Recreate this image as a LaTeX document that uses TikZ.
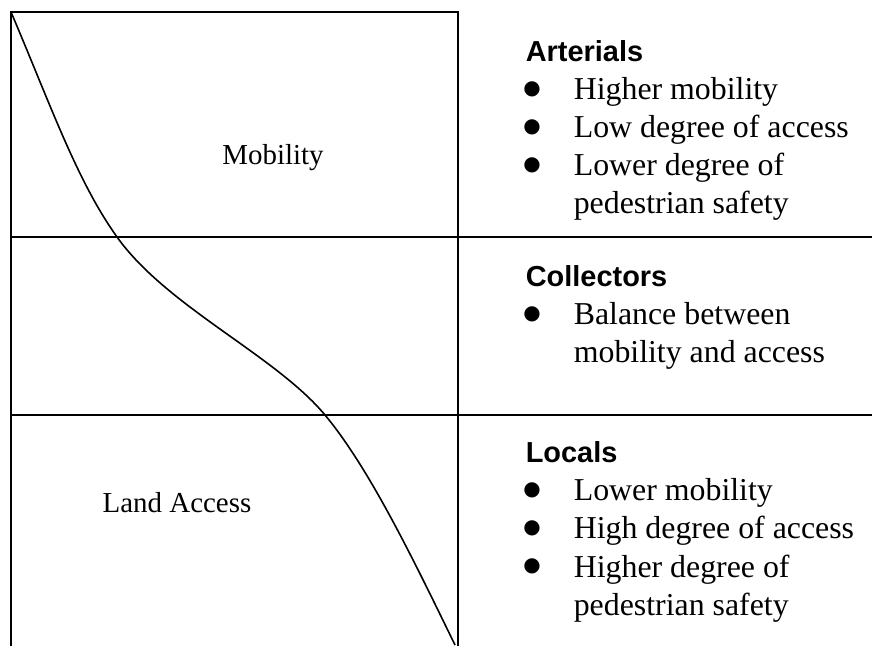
\documentclass[tikz,border=0pt]{standalone}
\usepackage{fontspec}
\setmainfont{Liberation Serif}
\setsansfont{Liberation Sans}
\newfontfamily\dotfont{DejaVu Sans}
\tikzset{
  headtxt/.style={anchor=base west, inner sep=0pt, font=\sffamily\bfseries\fontsize{10.9}{13}\selectfont},
  itemtxt/.style={anchor=base west, inner sep=0pt, font=\fontsize{12}{14}\selectfont},
  bullettxt/.style={anchor=base, inner sep=0pt, yshift=1.9pt, font=\dotfont\fontsize{7.5}{8}\selectfont},
  celltxt/.style={anchor=base, inner sep=0pt, font=\fontsize{10.9}{13}\selectfont}
}
\begin{document}
\begin{tikzpicture}[x=0.3768pt, y=-0.3768pt, line width=0.6pt]
    \useasboundingbox (0,0) rectangle (872,646);

    % grid
    \coordinate (TL) at (11,12);
    \coordinate (TM) at (458,12);
    \coordinate (BL) at (11,646);
    \coordinate (BM) at (458,646);
    \coordinate (L1) at (11,237);
    \coordinate (R1) at (872,237);
    \coordinate (L2) at (11,415);
    \coordinate (R2) at (872,415);

    \draw (BL) -- (TL) -- (TM) -- (BM);
    \draw (L1) -- (R1);
    \draw (L2) -- (R2);

    % curve
    \coordinate (C1) at (117,237);
    \coordinate (C2) at (325,415);
    \coordinate (C3) at (455,645);
    \draw (TL) .. controls (51,106) and (77,181) .. (C1)
               .. controls (167,307) and (275,355) .. (C2)
               .. controls (370,469) and (415,563) .. (C3);

    % left labels
    \node[celltxt] (mob) at (273,165) {Mobility};
    \node[celltxt] (land) at (177,513) {Land Access};

    % Arterials
    \node[headtxt] (art) at (525,62) {Arterials};
    \node[bullettxt] (artb1) at (532,100) {●};
    \node[itemtxt] (art1) at (573,100) {Higher mobility};
    \node[bullettxt] (artb2) at (532,138) {●};
    \node[itemtxt] (art2) at (573,138) {Low degree of access};
    \node[bullettxt] (artb3) at (532,176) {●};
    \node[itemtxt] (art3) at (573,176) {Lower degree of};
    \node[itemtxt] (art4) at (573,214) {pedestrian safety};

    % Collectors
    \node[headtxt] (col) at (525,287) {Collectors};
    \node[bullettxt] (colb1) at (532,325) {●};
    \node[itemtxt] (col1) at (573,325) {Balance between};
    \node[itemtxt] (col2) at (573,363) {mobility and access};

    % Locals
    \node[headtxt] (loc) at (525,463) {Locals};
    \node[bullettxt] (locb1) at (532,501) {●};
    \node[itemtxt] (loc1) at (573,501) {Lower mobility};
    \node[bullettxt] (locb2) at (532,539) {●};
    \node[itemtxt] (loc2) at (573,539) {High degree of access};
    \node[bullettxt] (locb3) at (532,577) {●};
    \node[itemtxt] (loc3) at (573,577) {Higher degree of};
    \node[itemtxt] (loc4) at (573,615) {pedestrian safety};
\end{tikzpicture}
\end{document}
